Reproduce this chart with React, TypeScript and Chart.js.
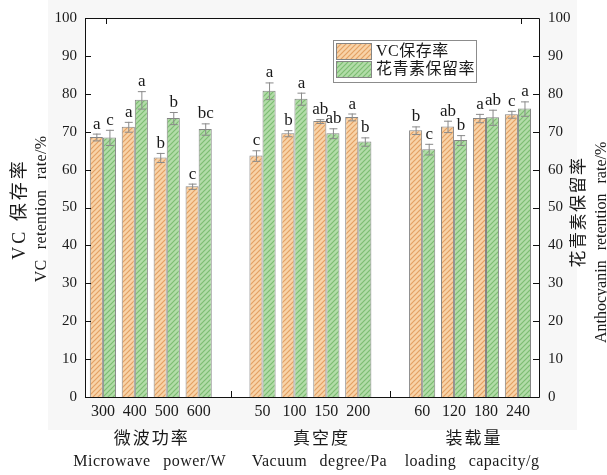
import React, { useEffect, useRef } from "react";
import { Chart, registerables } from "chart.js";
Chart.register(...registerables);

const categories = ["300", "400", "500", "600", "", "50", "100", "150", "200", "", "60", "120", "180", "240"];
const positions = [0, 1, 2, 3, 5, 6, 7, 8, 10, 11, 12, 13];
const vcValues = [68.6, 71.3, 63.2, 55.6, 63.7, 69.6, 72.8, 73.9, 70.4, 71.4, 73.6, 74.6];
const vcErrors = [0.9, 1.3, 1.2, 0.7, 1.4, 0.8, 0.5, 0.9, 1.0, 1.5, 1.1, 0.9];
const vcLetters = ["a", "a", "b", "c", "c", "b", "ab", "a", "b", "ab", "a", "c"];
const acValues = [68.5, 78.4, 73.6, 70.7, 80.8, 78.7, 69.6, 67.4, 65.4, 67.8, 73.8, 76.1];
const acErrors = [2.0, 2.3, 1.6, 1.5, 2.2, 1.6, 1.3, 1.1, 1.4, 1.3, 2.0, 1.9];
const acLetters = ["c", "a", "b", "bc", "a", "a", "ab", "b", "c", "b", "ab", "a"];
const yTicks = [0, 10, 20, 30, 40, 50, 60, 70, 80, 90, 100];
const gapPositions = [4, 9];
const topTickPositions = [0, 13];
const groupCenters = [1.5, 6.5, 11.5];
const groupNames = ["微波功率", "真空度", "装载量"];
const groupNamesEn = ["Microwave power/W", "Vacuum degree/Pa", "loading capacity/g"];
const seriesNames = ["VC保存率", "花青素保留率"];

const SERIF = "'Liberation Serif', 'DejaVu Serif', serif";
const CJK = "'Liberation Serif', 'Noto Sans CJK SC', sans-serif";

function makePattern(bg: string, stripe: string): CanvasPattern | string {
  const c = document.createElement("canvas");
  c.width = 5;
  c.height = 5;
  const x = c.getContext("2d");
  if (!x) return bg;
  x.fillStyle = bg;
  x.fillRect(0, 0, 5, 5);
  x.strokeStyle = stripe;
  x.lineWidth = 1.2;
  x.beginPath();
  x.moveTo(-1, 6); x.lineTo(6, -1);
  x.moveTo(-3.5, 3.5); x.lineTo(3.5, -3.5);
  x.moveTo(1.5, 8.5); x.lineTo(8.5, 1.5);
  x.stroke();
  const p = x.createPattern(c, "repeat");
  return p || bg;
}

export default function App() {
  const ref = useRef<HTMLCanvasElement | null>(null);
  useEffect(() => {
    const canvas = ref.current;
    if (!canvas) return;
    const orange = makePattern("#f8d3a8", "#e3a164");
    const green = makePattern("#b2dca8", "#7dbd72");
    const borderCol = "#858585";

    const plugin = {
      id: "custom",
      beforeDraw(chart: any) {
        const ctx = chart.ctx;
        const a = chart.chartArea;
        ctx.save();
        ctx.fillStyle = "#ffffff";
        ctx.fillRect(0, 0, chart.width, chart.height);
        ctx.fillStyle = "#f7f7f7";
        ctx.fillRect(48, 0, 529, 430);
        ctx.fillStyle = "#ffffff";
        ctx.fillRect(a.left, a.top, a.right - a.left, a.bottom - a.top);
        ctx.restore();
      },
      afterDatasetsDraw(chart: any) {
        const ctx = chart.ctx;
        const a = chart.chartArea;
        const xs = chart.scales.x;
        const ys = chart.scales.y;
        const sets = [
          { vals: vcValues, errs: vcErrors, lets: vcLetters },
          { vals: acValues, errs: acErrors, lets: acLetters },
        ];
        ctx.save();
        // error bars and letters
        sets.forEach((s, di) => {
          const meta = chart.getDatasetMeta(di);
          meta.data.forEach((bar: any, i: number) => {
            const cx = bar.x;
            const yTop = ys.getPixelForValue(s.vals[i] + s.errs[i]);
            const yBot = ys.getPixelForValue(s.vals[i] - s.errs[i]);
            ctx.strokeStyle = "#8a8a8a";
            ctx.lineWidth = 1;
            ctx.beginPath();
            ctx.moveTo(cx + 0.5, yTop);
            ctx.lineTo(cx + 0.5, yBot);
            ctx.moveTo(cx - 3.5, yTop + 0.5);
            ctx.lineTo(cx + 4.5, yTop + 0.5);
            ctx.moveTo(cx - 3.5, yBot + 0.5);
            ctx.lineTo(cx + 4.5, yBot + 0.5);
            ctx.stroke();
            ctx.fillStyle = "#1a1a1a";
            ctx.font = `17px ${SERIF}`;
            ctx.textAlign = "center";
            ctx.textBaseline = "alphabetic";
            ctx.fillText(s.lets[i], cx + 0.5, yTop - 5);
          });
        });
        // frame
        ctx.strokeStyle = "#111";
        ctx.lineWidth = 1;
        ctx.beginPath();
        ctx.rect(Math.round(a.left) + 0.5, Math.round(a.top) + 0.5, Math.round(a.right - a.left), Math.round(a.bottom - a.top));
        ctx.stroke();
        // y ticks (inward) on both sides
        ctx.beginPath();
        yTicks.forEach((t) => {
          const y = Math.round(ys.getPixelForValue(t)) + 0.5;
          ctx.moveTo(a.left, y); ctx.lineTo(a.left + 6, y);
          ctx.moveTo(a.right, y); ctx.lineTo(a.right - 6, y);
        });
        gapPositions.forEach((p) => {
          const x = Math.round(xs.getPixelForValue(p)) + 0.5;
          ctx.moveTo(x, a.bottom); ctx.lineTo(x, a.bottom - 6);
        });
        topTickPositions.forEach((p) => {
          const x = Math.round(xs.getPixelForValue(p)) + 3.5;
          ctx.moveTo(x, a.top); ctx.lineTo(x, a.top + 6);
        });
        ctx.stroke();
        // y tick labels
        ctx.fillStyle = "#1a1a1a";
        ctx.font = `15px ${SERIF}`;
        ctx.textBaseline = "middle";
        yTicks.forEach((t) => {
          const y = ys.getPixelForValue(t);
          ctx.textAlign = "right";
          ctx.fillText(String(t), a.left - 8, y);
          ctx.textAlign = "left";
          ctx.fillText(String(t), a.right + 9, y);
        });
        // x tick labels
        ctx.font = `16px ${SERIF}`;
        ctx.textAlign = "center";
        positions.forEach((p) => {
          ctx.fillText(categories[p], xs.getPixelForValue(p), a.bottom + 15);
        });
        // group labels
        const shifts = [0, 10, 3];
        groupCenters.forEach((g, i) => {
          const x = xs.getPixelForValue(g) + shifts[i];
          ctx.font = `17px 'Noto Sans CJK SC', sans-serif`;
          (ctx as any).letterSpacing = "2px";
          ctx.fillText(groupNames[i], x + 1, a.bottom + 41);
          (ctx as any).letterSpacing = "0px";
          ctx.font = `16px ${SERIF}`;
          (ctx as any).wordSpacing = "8px";
          (ctx as any).letterSpacing = "0.5px";
          ctx.fillText(groupNamesEn[i], x - 1, a.bottom + 65);
          (ctx as any).wordSpacing = "0px";
          (ctx as any).letterSpacing = "0px";
        });
        // axis titles
        const rot = (text: string, x: number, y: number, font: string, ls: string, ws: string) => {
          ctx.save();
          ctx.translate(x, y);
          ctx.rotate(-Math.PI / 2);
          ctx.font = font;
          (ctx as any).letterSpacing = ls;
          (ctx as any).wordSpacing = ws;
          ctx.textAlign = "center";
          ctx.textBaseline = "middle";
          ctx.fillText(text, 0, 0);
          ctx.restore();
        };
        rot("VC 保存率", 20, 209, `18px ${CJK}`, "3px", "0px");
        rot("VC retention rate/%", 42, 209, `16px ${SERIF}`, "0.3px", "6px");
        rot(seriesNames[1], 578, 212, `17px 'Noto Sans CJK SC', sans-serif`, "1.5px", "0px");
        ctx.font = `16px ${SERIF}`;
        (ctx as any).wordSpacing = "6px";
        const w = ctx.measureText("Anthocyanin retention rate/%").width;
        (ctx as any).wordSpacing = "0px";
        rot("Anthocyanin retention rate/%", 602, 343 - w / 2, `16px ${SERIF}`, "0px", "6px");
        // legend
        ctx.strokeStyle = "#8c8c8c";
        ctx.lineWidth = 1;
        ctx.fillStyle = "#ffffff";
        ctx.fillRect(333, 40, 143, 42);
        ctx.strokeRect(333.5, 40.5, 143, 42);
        const fills = [orange, green];
        seriesNames.forEach((n, i) => {
          const y0 = 43 + i * 18;
          ctx.fillStyle = fills[i] as any;
          ctx.fillRect(336, y0, 35, 16);
          ctx.strokeStyle = borderCol;
          ctx.strokeRect(336.5, y0 + 0.5, 35, 16);
          ctx.fillStyle = "#1a1a1a";
          ctx.font = `16px ${CJK}`;
          ctx.textAlign = "left";
          ctx.textBaseline = "middle";
          (ctx as any).letterSpacing = "0.5px";
          ctx.fillText(n, 376, y0 + 8.5);
          (ctx as any).letterSpacing = "0px";
        });
        ctx.restore();
      },
    };

    const chart = new Chart(canvas, {
      type: "bar",
      data: {
        datasets: [
          {
            label: seriesNames[0],
            data: positions.map((p, i) => ({ x: p, y: vcValues[i] })),
            backgroundColor: orange as any,
            borderColor: borderCol,
            borderWidth: 1,
          },
          {
            label: seriesNames[1],
            data: positions.map((p, i) => ({ x: p, y: acValues[i] })),
            backgroundColor: green as any,
            borderColor: borderCol,
            borderWidth: 1,
          },
        ],
      },
      options: {
        responsive: false,
        animation: false,
        categoryPercentage: 0.82,
        barPercentage: 1.0,
        layout: { padding: { top: 18, left: 0, right: 0, bottom: 0 } },
        plugins: { legend: { display: false }, tooltip: { enabled: false } },
        scales: {
          x: {
            type: "linear",
            min: -0.56,
            max: 13.66,
            offset: false,
            ticks: { display: false },
            grid: { display: false },
            border: { display: false },
            afterFit: (s: any) => { s.height = 78; },
          },
          y: {
            position: "left",
            min: 0,
            max: 100,
            ticks: { display: false },
            grid: { display: false },
            border: { display: false },
            afterFit: (s: any) => { s.width = 85; },
          },
          y2: {
            position: "right",
            min: 0,
            max: 100,
            ticks: { display: false },
            grid: { display: false },
            border: { display: false },
            afterFit: (s: any) => { s.width = 68; },
          },
        },
      } as any,
      plugins: [plugin as any],
    });
    return () => chart.destroy();
  }, []);
  return (
    <div style={{ position: "absolute", left: 0, top: 0, width: 607, height: 475 }}>
      <canvas ref={ref} width={607} height={475} style={{ display: "block" }} />
    </div>
  );
}
